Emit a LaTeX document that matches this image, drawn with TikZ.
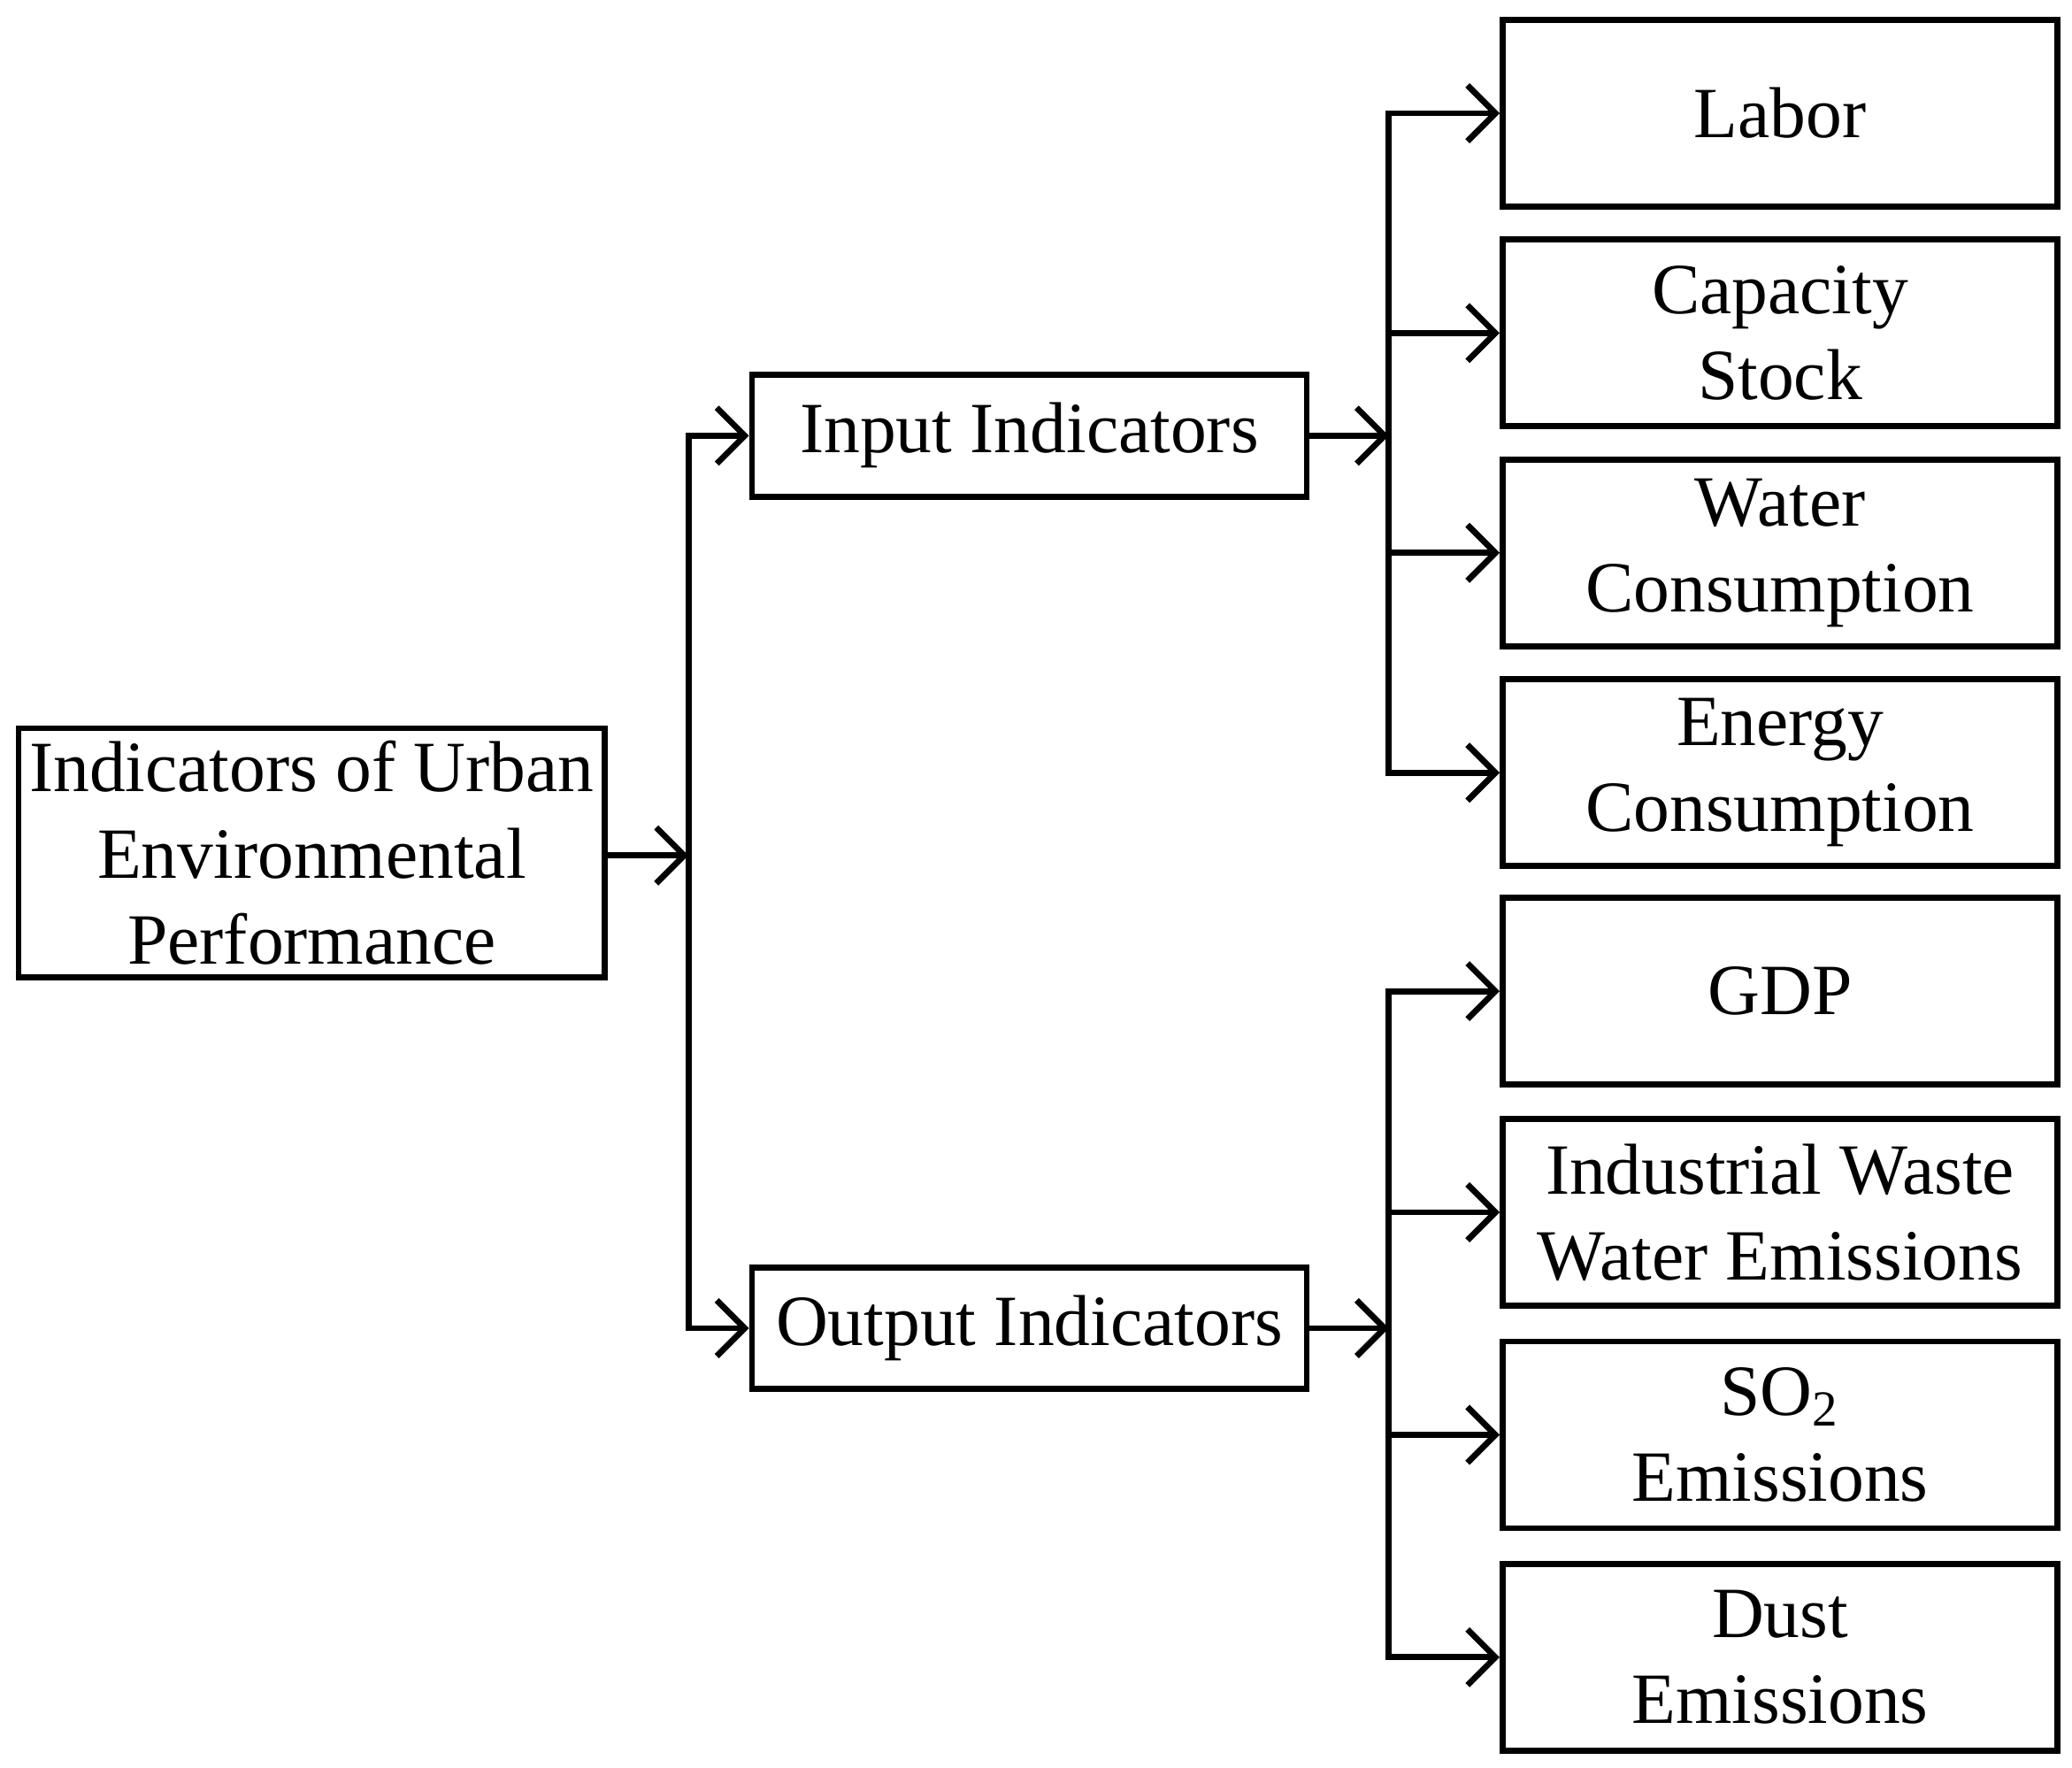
\documentclass[tikz,border=0pt]{standalone}
\usepackage{fontspec}
\setmainfont{Liberation Serif}
\usetikzlibrary{arrows.meta}
\begin{document}
\begin{tikzpicture}[x=0.1mm,y=-0.1mm,
 box/.style={draw,line width=1.3pt,align=center,inner sep=0pt,font=\fontsize{15.5}{18.5}\selectfont},
 sb/.style={box,minimum width=419*0.1mm,minimum height=141*0.1mm},
 arr/.style={line width=1.3pt,-{Straight Barb[length=6pt,width=12pt,line width=1.3pt]}}]
\useasboundingbox (0,0) rectangle (1565,1335);
\node[box,minimum width=443*0.1mm,minimum height=188*0.1mm] (root) at (235.5,644) {Indicators of Urban\\Environmental\\Performance};
\node[box,minimum width=419*0.1mm,minimum height=92*0.1mm] (inp) at (777.5,329) {Input Indicators};
\node[box,minimum width=419*0.1mm,minimum height=92*0.1mm] (out) at (777.5,1003) {Output Indicators};
\node[sb] (l1) at (1344.5,85.5) {Labor};
\node[sb] (l2) at (1344.5,251.5) {Capacity\\Stock};
\node[sb] (l3) at (1344.5,417.5) {Water\\Consumption};
\node[sb] (l4) at (1344.5,583.5) {Energy\\Consumption};
\node[sb] (r1) at (1344.5,748.5) {GDP};
\node[sb] (r2) at (1344.5,915.5) {Industrial Waste\\Water Emissions};
\node[sb] (r3) at (1344.5,1083.5) {SO\textsubscript{2}\\Emissions};
\node[sb] (r4) at (1344.5,1251.5) {Dust\\Emissions};
\coordinate (t) at (520,646);
\coordinate (ti) at (1049,329);
\coordinate (to) at (1049,1003);
\draw[arr] (root.east |- t) -- (t);
\draw[arr] (t) |- (inp.west);
\draw[arr] (t) |- (out.west);
\draw[arr] (inp.east) -- (ti);
\draw[arr] (out.east) -- (to);
\foreach \n in {l1,l2,l3,l4} \draw[arr] (ti) |- (\n.west);
\foreach \n in {r1,r2,r3,r4} \draw[arr] (to) |- (\n.west);
\end{tikzpicture}
\end{document}
